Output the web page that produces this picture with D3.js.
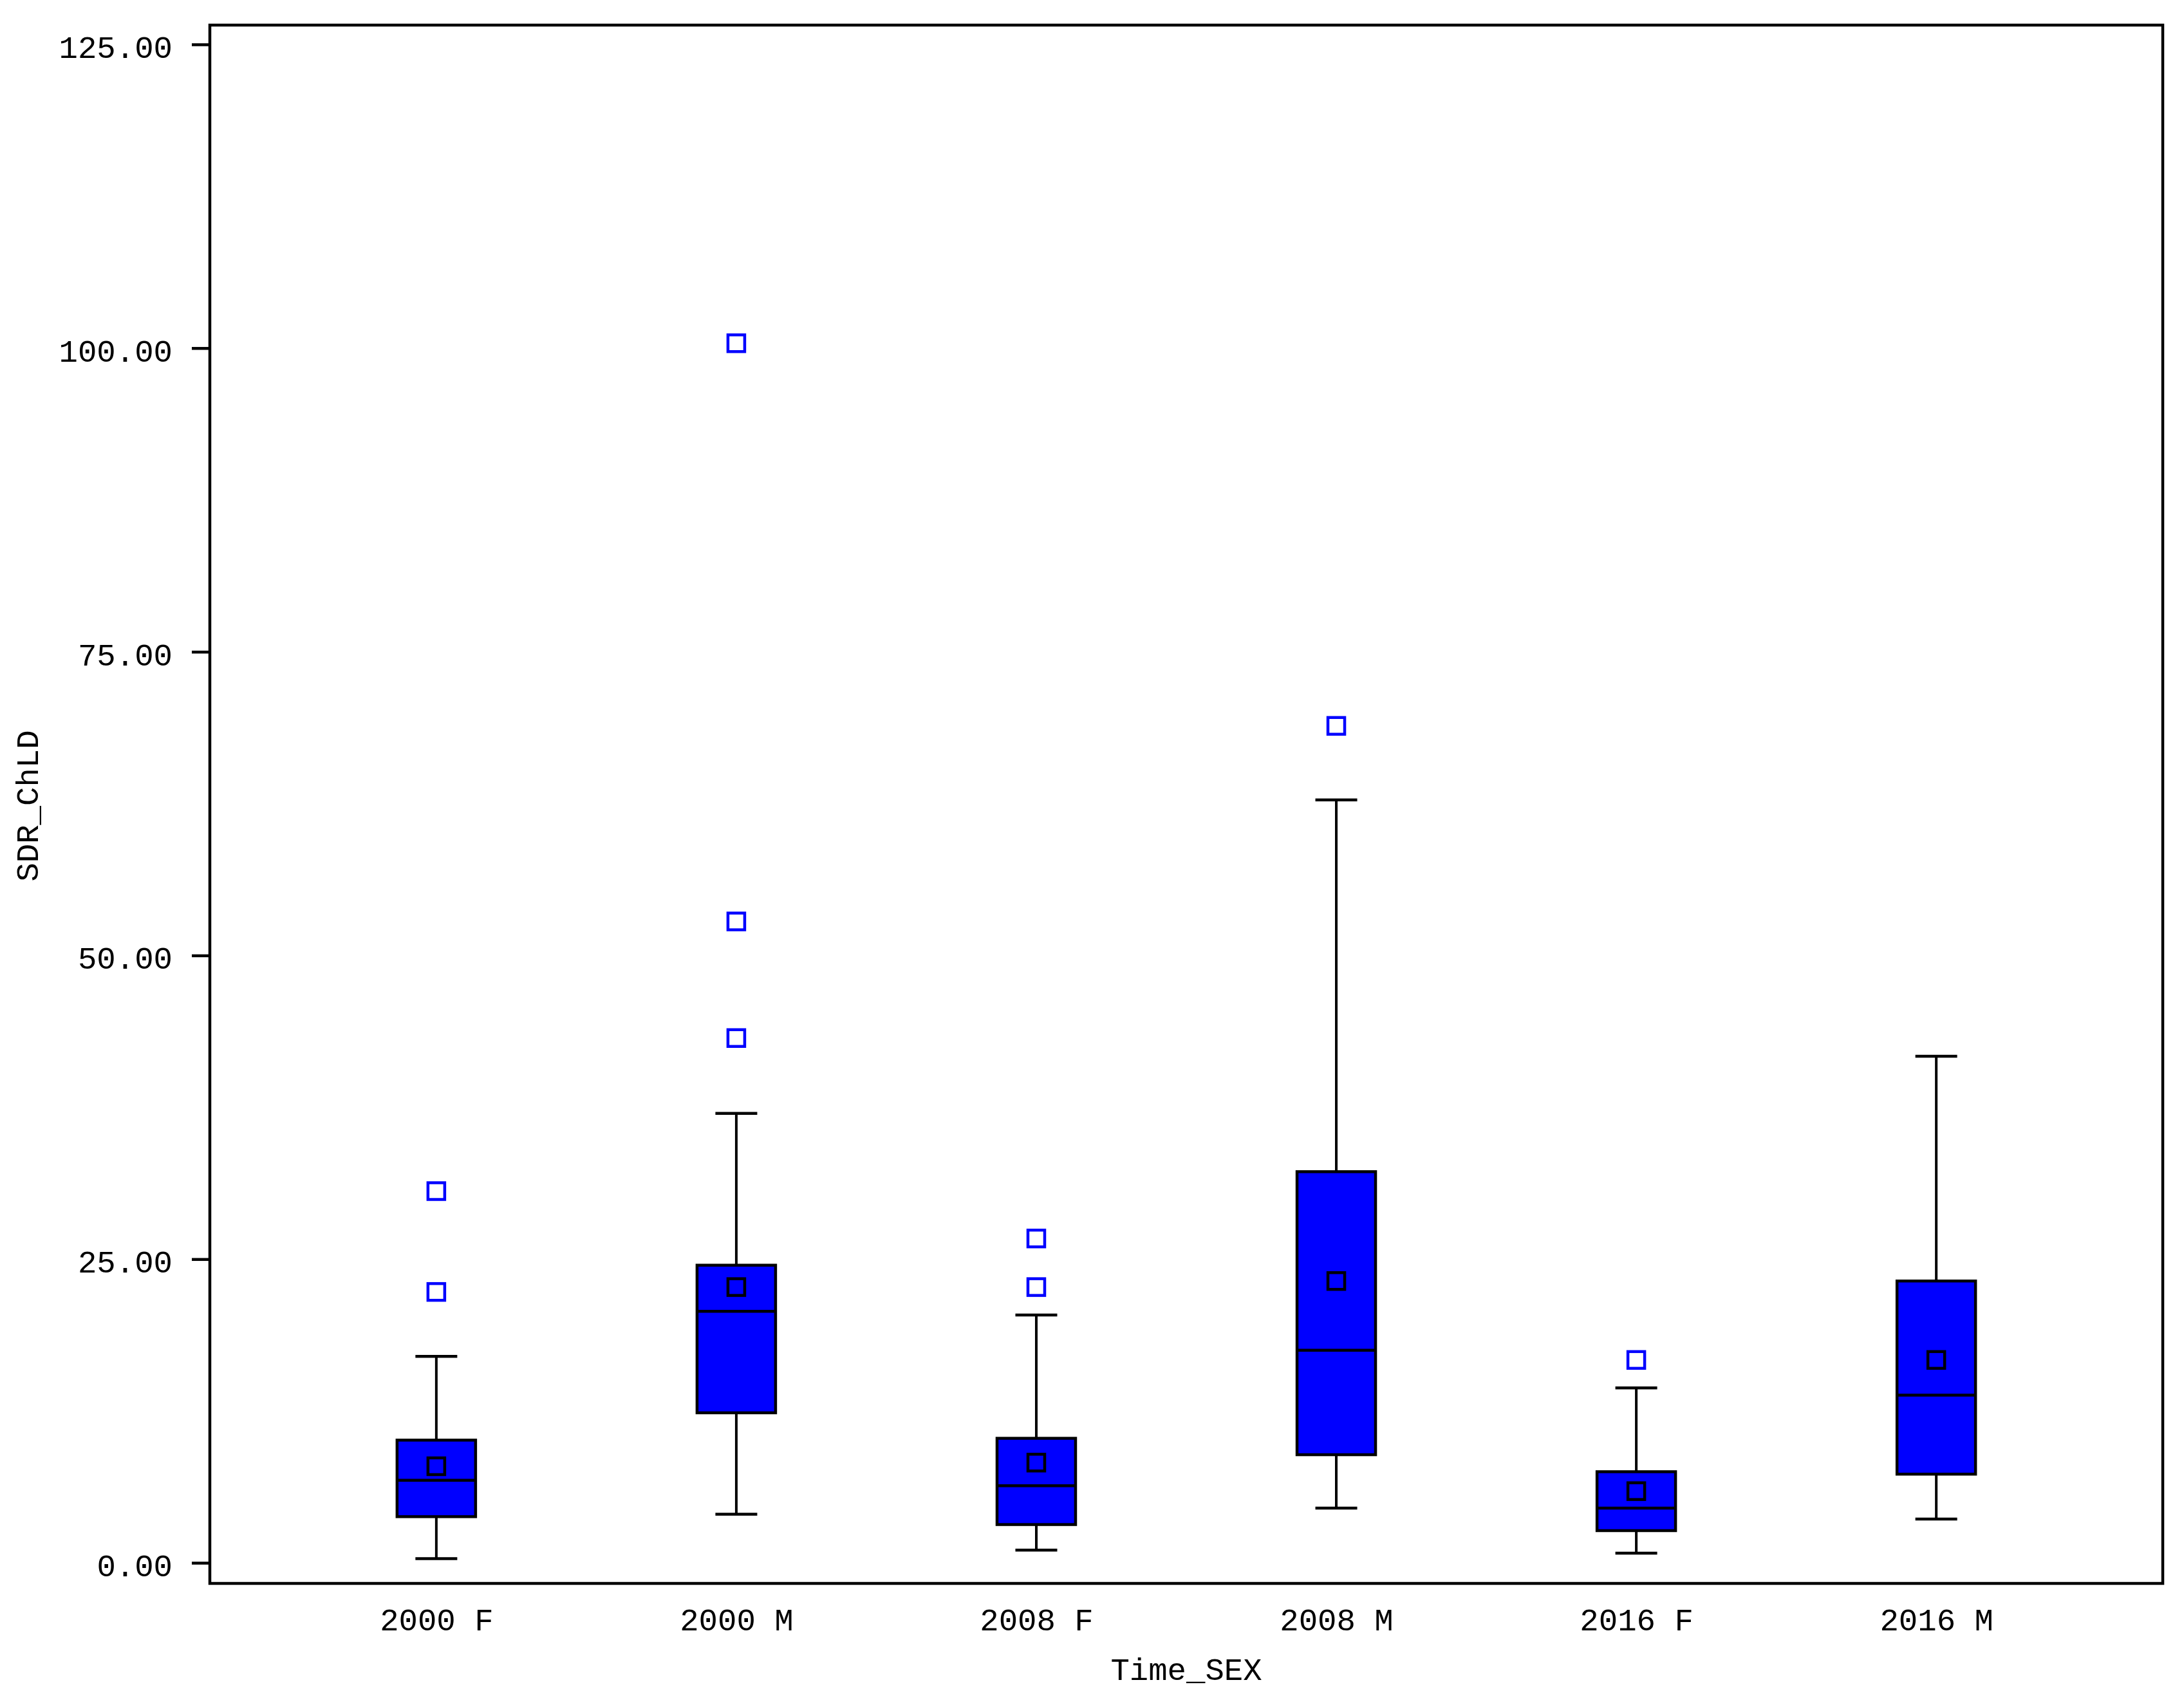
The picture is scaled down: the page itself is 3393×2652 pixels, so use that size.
<!DOCTYPE html>
<html><head><meta charset="utf-8">
<script src="https://cdn.jsdelivr.net/npm/d3@7/dist/d3.min.js"></script>
<style>body{margin:0;background:#fff}</style>
</head><body>
<svg id="c" width="3393" height="2652"></svg>
<script>
const categories = ["2000 F","2000 M","2008 F","2008 M","2016 F","2016 M"];
const whiskerLow  = [0.35, 4.0, 1.05, 4.5, 0.8, 3.6];
const q1          = [3.8, 12.35, 3.15, 8.9, 2.65, 7.3];
const median      = [6.8, 20.7, 6.35, 17.5, 4.5, 13.8];
const q3          = [10.1, 24.5, 10.25, 32.2, 7.5, 23.2];
const whiskerHigh = [17.0, 37.0, 20.4, 62.8, 14.4, 41.7];
const means       = [7.95, 22.7, 8.25, 23.2, 5.9, 16.7];
const outliers    = [[30.6, 22.3], [100.4, 52.8, 43.2], [26.7, 22.7], [68.9], [16.7], []];
const yTicks = [0, 25, 50, 75, 100, 125];

const svg = d3.select("#c");
const L = 326, R = 3360, T = 39, B = 2460;
const font = "'Liberation Mono', 'Courier New', monospace";

const x = d3.scalePoint().domain(categories).range([L, R]).padding(0.755);
const y = d3.scaleLinear().domain([0, 125]).range([2428, 69]);

const boxW = 122, capW = 65, sq = 26, osq = 26;

// frame
svg.append("rect").attr("x", L).attr("y", T).attr("width", R - L).attr("height", B - T)
  .attr("fill", "none").attr("stroke", "#000").attr("stroke-width", 4.5);

// y axis
const yAxis = d3.axisLeft(y).tickValues(yTicks).tickSize(28).tickPadding(30)
  .tickFormat(d3.format(".2f"));
const ga = svg.append("g").attr("transform", `translate(${L},0)`).call(yAxis);
ga.select(".domain").remove();
ga.selectAll(".tick line").attr("stroke", "#000").attr("stroke-width", 4.5);
ga.selectAll(".tick text").attr("font-family", font).attr("font-size", 49).attr("fill", "#000")
  .attr("dy", "0.42em");

// x axis labels
const xAxis = d3.axisBottom(x).tickSize(0).tickPadding(0);
const gx = svg.append("g").attr("transform", `translate(0,${B})`).call(xAxis);
gx.select(".domain").remove();
gx.selectAll(".tick text").attr("font-family", font).attr("font-size", 49).attr("fill", "#000")
  .attr("y", 73).attr("dy", 0);

// axis titles
svg.append("text").attr("x", (L + R) / 2).attr("y", 2610).attr("text-anchor", "middle")
  .attr("font-family", font).attr("font-size", 49).text("Time_SEX");
svg.append("text").attr("transform", `translate(59,1252) rotate(-90)`).attr("text-anchor", "middle")
  .attr("font-family", font).attr("font-size", 49).text("SDR_ChLD");

// boxes
categories.forEach((c, i) => {
  const cx = x(c);
  const g = svg.append("g");
  // whiskers
  g.append("line").attr("x1", cx).attr("x2", cx).attr("y1", y(whiskerHigh[i])).attr("y2", y(q3[i]))
    .attr("stroke", "#000").attr("stroke-width", 4);
  g.append("line").attr("x1", cx).attr("x2", cx).attr("y1", y(q1[i])).attr("y2", y(whiskerLow[i]))
    .attr("stroke", "#000").attr("stroke-width", 4);
  [whiskerHigh[i], whiskerLow[i]].forEach(v => {
    g.append("line").attr("x1", cx - capW / 2).attr("x2", cx + capW / 2).attr("y1", y(v)).attr("y2", y(v))
      .attr("stroke", "#000").attr("stroke-width", 4.5);
  });
  // box
  g.append("rect").attr("x", cx - boxW / 2).attr("width", boxW)
    .attr("y", y(q3[i])).attr("height", y(q1[i]) - y(q3[i]))
    .attr("fill", "#0000ff").attr("stroke", "#000").attr("stroke-width", 4.5);
  g.append("line").attr("x1", cx - boxW / 2).attr("x2", cx + boxW / 2)
    .attr("y1", y(median[i])).attr("y2", y(median[i])).attr("stroke", "#000").attr("stroke-width", 4.5);
  // mean
  g.append("rect").attr("x", cx - sq / 2).attr("y", y(means[i]) - sq / 2).attr("width", sq).attr("height", sq)
    .attr("fill", "none").attr("stroke", "#000").attr("stroke-width", 4.5);
  // outliers
  outliers[i].forEach(v => {
    g.append("rect").attr("x", cx - osq / 2).attr("y", y(v) - osq / 2).attr("width", osq).attr("height", osq)
      .attr("fill", "#fff").attr("stroke", "#0000ff").attr("stroke-width", 4.5);
  });
});
</script>
</body></html>
